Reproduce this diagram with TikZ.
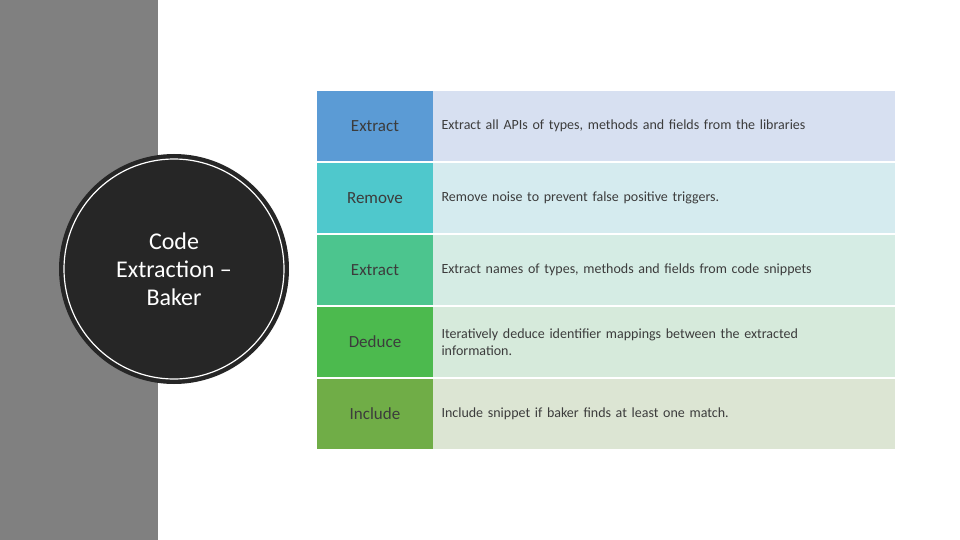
\documentclass[tikz,border=0pt]{standalone}
\usepackage{fontspec}
\setmainfont{Carlito}
\definecolor{c1}{HTML}{5B9BD5}\definecolor{d1}{HTML}{D7E0F1}
\definecolor{c2}{HTML}{4FC8CC}\definecolor{d2}{HTML}{D5EBEF}
\definecolor{c3}{HTML}{4CC58E}\definecolor{d3}{HTML}{D5ECE4}
\definecolor{c4}{HTML}{4CBA4E}\definecolor{d4}{HTML}{D6EADB}
\definecolor{c5}{HTML}{70AD47}\definecolor{d5}{HTML}{DCE5D3}
\definecolor{dark}{HTML}{262626}
\definecolor{bar}{HTML}{808080}
\tikzset{lab/.style={anchor=center,font=\fontsize{17}{20}\selectfont,text=dark!90},
desc/.style={anchor=west,font=\fontsize{14}{17}\selectfont,text=dark!90,text width=420pt,align=left}}
\begin{document}
\begin{tikzpicture}[x=1pt,y=-1pt]
\useasboundingbox (0,0) rectangle (960,540);
\fill[white] (0,0) rectangle (960,540);
\fill[bar] (0,0) rectangle (158,540);
\fill[dark] (174,269) circle (115);
\draw[white,line width=1.2pt] (174,269) circle (110);
\node[text=white,align=center,font=\fontsize{24}{28}\selectfont] (t) at (174,269) {Code\\Extraction –\\Baker};
\foreach \i/\l/\d in {1/Extract/{Extract all APIs of types, methods and fields from the libraries},
2/Remove/{Remove noise to prevent false positive triggers.},
3/Extract/{Extract names of types, methods and fields from code snippets},
4/Deduce/{Iteratively deduce identifier mappings between the extracted\\information.},
5/Include/{Include snippet if baker finds at least one match.}}{
\pgfmathsetmacro{\yt}{91+72*(\i-1)}
\fill[c\i] (317,\yt) rectangle (433,\yt+70);
\fill[d\i] (433,\yt) rectangle (895,\yt+70);
\node[lab] (l\i) at (375,\yt+35) {\l};
\node[desc] (r\i) at (438,\yt+35) {\d};
}
\end{tikzpicture}
\end{document}
